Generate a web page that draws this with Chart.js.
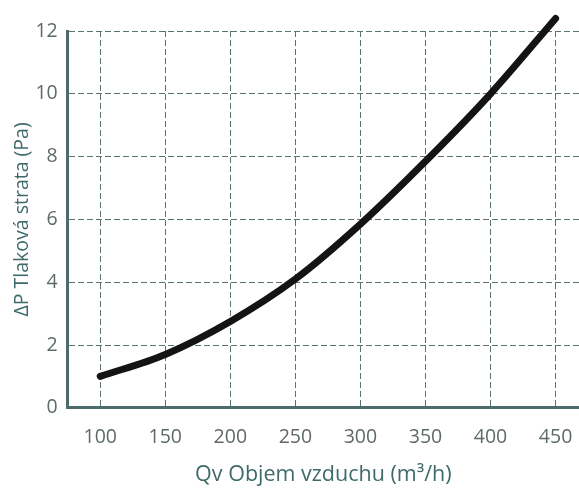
<!DOCTYPE html>
<html>
<head>
<meta charset="utf-8">
<script src="https://cdn.jsdelivr.net/npm/chart.js@4"></script>
<style>
  html, body { margin: 0; padding: 0; background: #fff; }
  #wrap { width: 579px; height: 488px; }
</style>
</head>
<body>
<div id="wrap"><canvas id="graf"></canvas></div>
<script>
// tlaková strata podľa objemu vzduchu
const prietok = [100, 150, 200, 250, 300, 350, 400, 450];
const strata = [1.0, 1.7, 2.75, 4.1, 5.85, 7.85, 10.0, 12.4];
const xTicks = [100, 150, 200, 250, 300, 350, 400, 450];
const yTicks = [0, 2, 4, 6, 8, 10, 12];

const osFarba = "#4d6b6b";
const mriezka = "#5b7272";
const textFarba = "#5f6a6a";
const titulFarba = "#3f6a6a";

Chart.defaults.font.family = "'Open Sans', sans-serif";

new Chart(document.getElementById("graf"), {
  type: "line",
  data: {
    datasets: [{
      data: prietok.map((q, i) => ({ x: q, y: strata[i] })),
      borderColor: "#141414",
      borderWidth: 7,
      borderCapStyle: "round",
      cubicInterpolationMode: "monotone",
      pointRadius: 0,
      clip: false,
    }],
  },
  options: {
    responsive: true,
    maintainAspectRatio: false,
    animation: false,
    layout: { padding: { top: 31, right: 0, bottom: 0, left: 0 } },
    plugins: { legend: { display: false }, tooltip: { enabled: false } },
    scales: {
      x: {
        type: "linear",
        min: 75,
        max: 468,
        afterBuildTicks: (axis) => { axis.ticks = xTicks.map(v => ({ value: v })); },
        // tickLength robí medzeru pod osou, samotné čiarky sú neviditeľné
        grid: { color: mriezka, lineWidth: 1, drawTicks: true, tickLength: 18, tickColor: "rgba(0,0,0,0)" },
        border: { display: true, color: osFarba, width: 3, dash: [6, 3] },
        ticks: { color: textFarba, font: { size: 19.5 }, padding: 0, maxRotation: 0 },
        title: {
          display: true,
          text: "Qv Objem vzduchu (m³/h)",
          color: titulFarba,
          font: { size: 21.5 },
          padding: { top: 13, bottom: 0 },
        },
      },
      y: {
        type: "linear",
        min: 0,
        max: 12,
        afterBuildTicks: (axis) => { axis.ticks = yTicks.map(v => ({ value: v })); },
        grid: { color: mriezka, lineWidth: 1, drawTicks: true, tickLength: 10, tickColor: "rgba(0,0,0,0)" },
        border: { display: true, color: osFarba, width: 3, dash: [6, 3] },
        ticks: { color: textFarba, font: { size: 19.5 }, padding: 0 },
        title: {
          display: true,
          text: "ΔP Tlaková strata (Pa)",
          color: titulFarba,
          font: { size: 19.5 },
          padding: { top: 11, bottom: 1 },
        },
      },
    },
  },
});
</script>
</body>
</html>
